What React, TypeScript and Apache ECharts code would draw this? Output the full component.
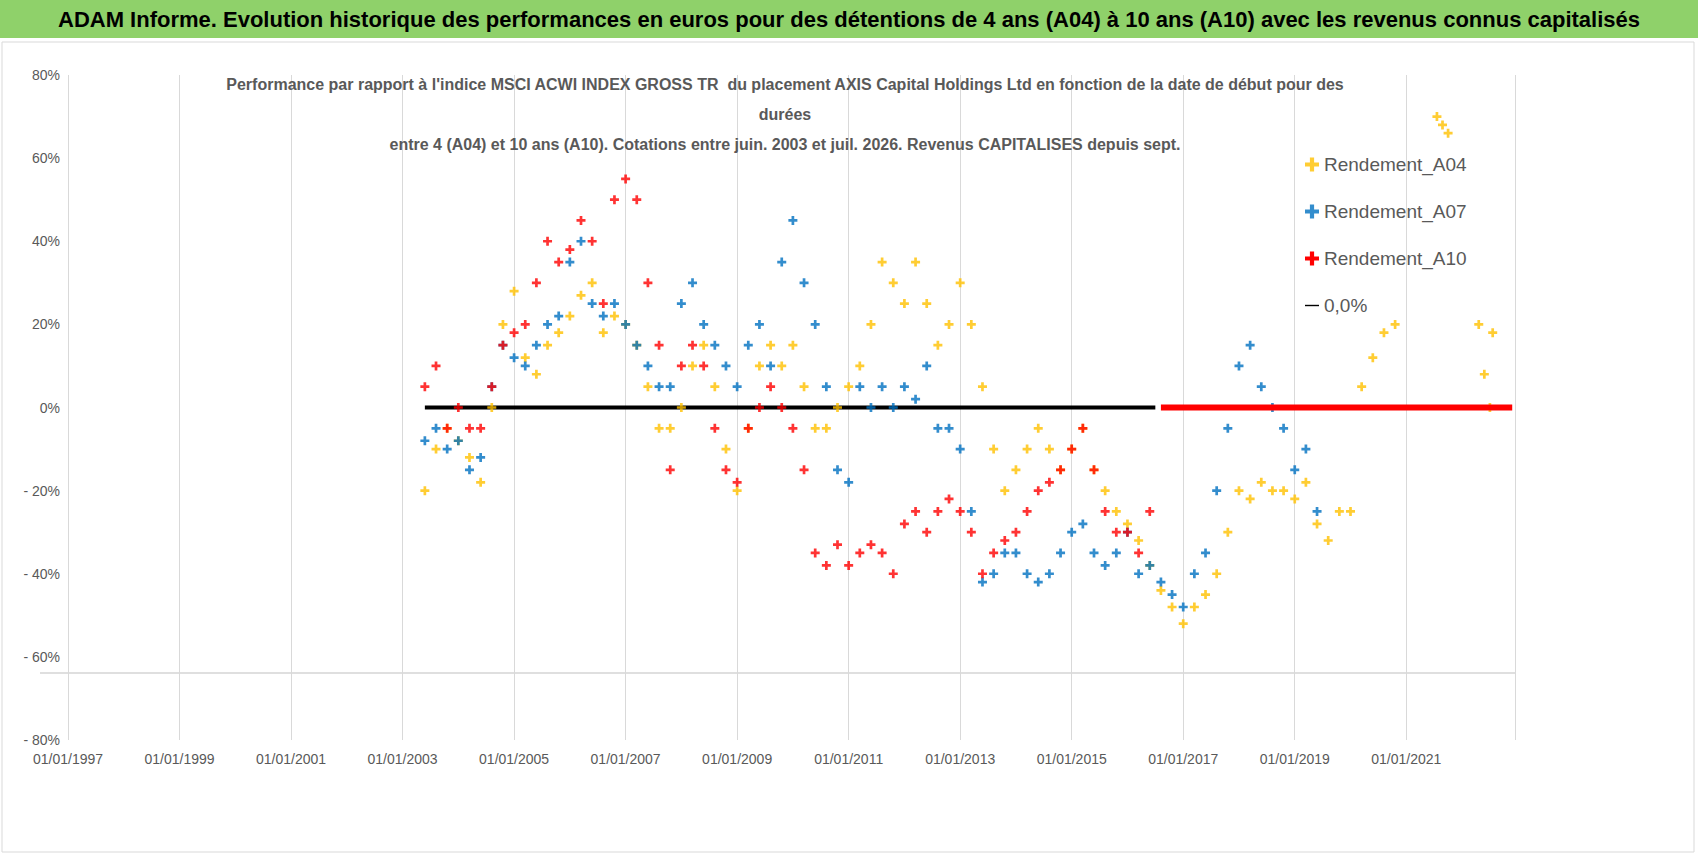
import React, { useEffect, useRef } from 'react'
import * as echarts from 'echarts';

const START = 2003.4;
const STEP = 0.2;
// sampled every 0.2 year from START
const a04Values = [-20, -10, -5, -8, -12, -18, 0, 20, 28, 12, 8, 15, 18, 22, 27, 30, 18, 22, 20, 15, 5, -5, -5, 0, 10, 15, 5, -10, -20, -5, 10, 15, 10, 15, 5, -5, -5, 0, 5, 10, 20, 35, 30, 25, 35, 25, 15, 20, 30, 20, 5, -10, -20, -15, -10, -5, -10, -15, -10, -5, -15, -20, -25, -28, -32, -38, -44, -48, -52, -48, -45, -40, -30, -20, -22, -18, -20, -20, -22, -18, -28, -32, -25, -25, 5, 12, 18, 20];
const a04Late = [[2021.55, 70], [2021.65, 68], [2021.75, 66], [2022.3, 20], [2022.4, 8], [2022.5, 0], [2022.55, 18]];
const a07Values = [-8, -5, -10, -8, -15, -12, 5, 15, 12, 10, 15, 20, 22, 35, 40, 25, 22, 25, 20, 15, 10, 5, 5, 25, 30, 20, 15, 10, 5, 15, 20, 10, 35, 45, 30, 20, 5, -15, -18, 5, 0, 5, 0, 5, 2, 10, -5, -5, -10, -25, -42, -40, -35, -35, -40, -42, -40, -35, -30, -28, -35, -38, -35, -30, -40, -38, -42, -45, -48, -40, -35, -20, -5, 10, 15, 5, 0, -5, -15, -10, -25];
const a10Values = [5, 10, -5, 0, -5, -5, 5, 15, 18, 20, 30, 40, 35, 38, 45, 40, 25, 50, 55, 50, 30, 15, -15, 10, 15, 10, -5, -15, -18, -5, 0, 5, 0, -5, -15, -35, -38, -33, -38, -35, -33, -35, -40, -28, -25, -30, -25, -22, -25, -30, -40, -35, -32, -30, -25, -20, -18, -15, -10, -5, -15, -25, -30, -30, -35, -25];
const zeroLine = [[2003.4, 0], [2016.5, 0]];
const a10Zero = [[2016.6, 0], [2022.9, 0]];

const toPoints = (vals: number[]) => vals.map((v, i) => [+(START + i * STEP).toFixed(2), v]);

const PLUS = 'path://M3.5,0 L6.5,0 L6.5,3.5 L10,3.5 L10,6.5 L6.5,6.5 L6.5,10 L3.5,10 L3.5,6.5 L0,6.5 L0,3.5 L3.5,3.5 Z';
const FONT = '"Liberation Sans Narrow", "Liberation Sans", Arial, sans-serif';

const App = function () {
  const dom = useRef<HTMLDivElement>(null);
  useEffect(() => {
    const chart = echarts.init(dom.current!, null, { renderer: 'svg' });
    const scatter = (name: string, color: string, data: number[][]) => ({
      name, type: 'scatter' as const, data, symbol: PLUS, symbolSize: 9,
      itemStyle: { color }, z: 3,
    });
    chart.setOption({
      animation: false,
      textStyle: { fontFamily: FONT },
      graphic: [
        { type: 'rect', shape: { x: 0, y: 0, width: 1698, height: 38 }, style: { fill: '#8fd16a' } },
        { type: 'text', left: 'center', top: 8, style: { text: 'ADAM Informe. Evolution historique des performances en euros pour des détentions de 4 ans (A04) à 10 ans (A10) avec les revenus connus capitalisés', fontSize: 22, fontWeight: 'bold', fill: '#000', fontFamily: FONT } },
        { type: 'rect', shape: { x: 2, y: 42, width: 1692, height: 810 }, style: { fill: 'none', stroke: '#d9d9d9', lineWidth: 1 } },
        { type: 'line', shape: { x1: 40, y1: 673, x2: 1515, y2: 673 }, style: { stroke: '#bfbfbf', lineWidth: 1 } },
      ],
      title: {
        text: "Performance par rapport à l'indice MSCI ACWI INDEX GROSS TR  du placement AXIS Capital Holdings Ltd en fonction de la date de début pour des\ndurées\nentre 4 (A04) et 10 ans (A10). Cotations entre juin. 2003 et juil. 2026. Revenus CAPITALISES depuis sept.",
        left: 780, textAlign: 'center', top: 64,
        textStyle: { fontSize: 16, fontWeight: 'bold', color: '#595959', lineHeight: 30, fontFamily: FONT },
      },
      legend: {
        orient: 'vertical', left: 1300, top: 150, itemGap: 28, itemWidth: 14, itemHeight: 14,
        textStyle: { fontSize: 19, color: '#595959', fontFamily: FONT },
        data: [
          { name: 'Rendement_A04', icon: PLUS },
          { name: 'Rendement_A07', icon: PLUS },
          { name: 'Rendement_A10', icon: PLUS },
          { name: '0,0%', icon: 'path://M0,4 L30,4 L30,7 L0,7 Z', itemStyle: { color: '#000' } },
        ],
      },
      grid: { left: 68, right: 183, top: 75, bottom: 116 },
      xAxis: {
        type: 'value', min: 1997, max: 2022.95, interval: 2,
        axisLine: { show: false }, axisTick: { show: false },
        splitLine: { show: true, lineStyle: { color: '#d9d9d9' } },
        axisLabel: { formatter: (v: number) => (v % 2 === 1 ? `01/01/${v}` : ''), color: '#595959', fontSize: 14, fontFamily: FONT, margin: 12 },
      },
      yAxis: {
        type: 'value', min: -80, max: 80, interval: 20,
        axisLine: { show: false }, axisTick: { show: false }, splitLine: { show: false },
        axisLabel: { formatter: (v: number) => (v < 0 ? `- ${-v}%` : `${v}%`), color: '#595959', fontSize: 14, fontFamily: FONT },
      },
      series: [
        { name: '0,0%', type: 'line', data: zeroLine, symbol: 'none', lineStyle: { color: '#000', width: 4 }, itemStyle: { color: '#000' }, z: 2 },
        { name: 'Rendement_A10', type: 'line', data: a10Zero, symbol: 'none', lineStyle: { color: '#ff0000', width: 6 }, itemStyle: { color: '#ff0000' }, z: 4 },
        scatter('Rendement_A04', '#ffc000', [...toPoints(a04Values), ...a04Late]),
        scatter('Rendement_A07', '#0070c0', toPoints(a07Values)),
        scatter('Rendement_A10', '#ff0000', toPoints(a10Values)),
      ],
    });
    return () => chart.dispose();
  }, []);
  return <div ref={dom} style={{ position: 'absolute', left: 0, top: 0, width: 1698, height: 856 }} />;
}

export default App
